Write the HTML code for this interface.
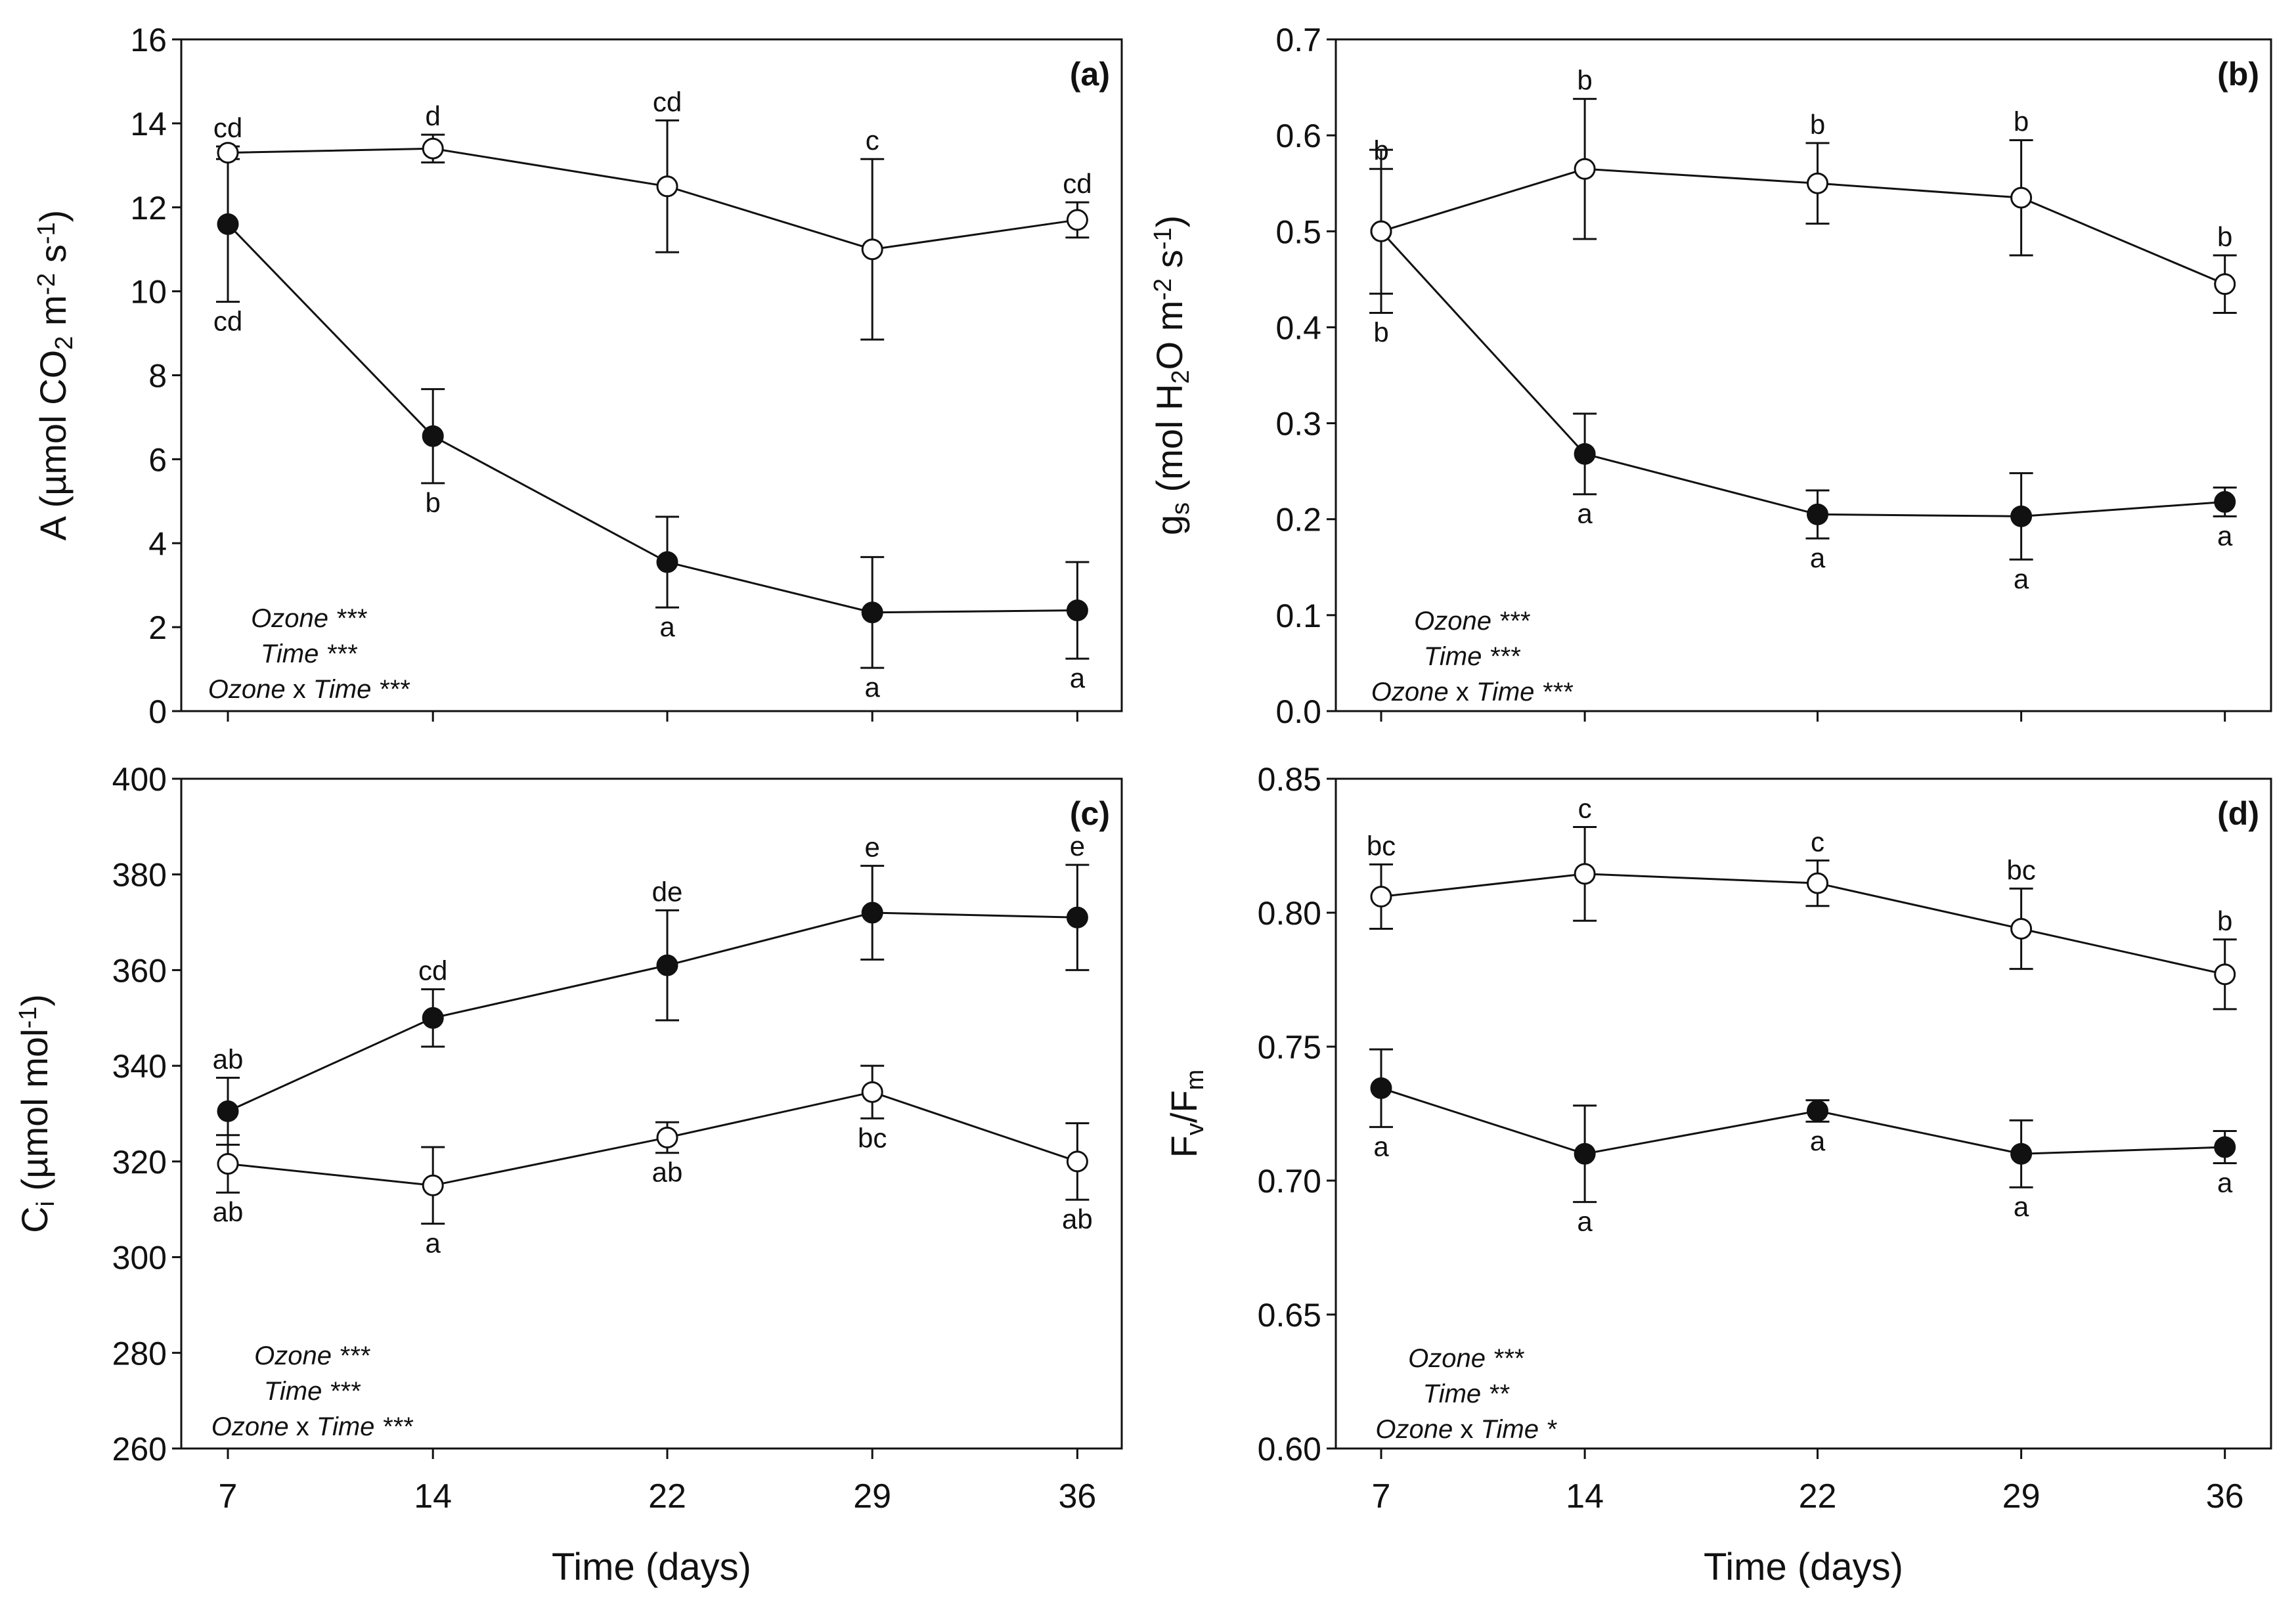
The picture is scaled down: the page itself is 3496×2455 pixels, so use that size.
<!DOCTYPE html>
<html><head><meta charset="utf-8"><style>
html,body{margin:0;padding:0;background:#fff;}
svg{display:block;}
text{font-family:"Liberation Sans",Arial,sans-serif;fill:#111;}
</style></head><body>
<svg id="fig" width="3496" height="2455" viewBox="0 0 3496 2455" xmlns="http://www.w3.org/2000/svg"></svg>
<script>
const days = [7, 14, 22, 29, 36];
// Panel a: net photosynthesis
const aOpen = [13.3, 13.4, 12.5, 11.0, 11.7];
const aOpenErr = [0.15, 0.33, 1.57, 2.15, 0.42];
const aFilled = [11.6, 6.55, 3.55, 2.35, 2.4];
const aFilledErr = [1.85, 1.12, 1.08, 1.32, 1.15];
const aOpenLet = ["cd", "d", "cd", "c", "cd"];
const aFilledLet = ["cd", "b", "a", "a", "a"];
const aTicks = [0, 2, 4, 6, 8, 10, 12, 14, 16];
// Panel b: stomatal conductance
const bOpen = [0.50, 0.565, 0.55, 0.535, 0.445];
const bOpenErr = [0.065, 0.073, 0.042, 0.06, 0.03];
const bFilled = [0.50, 0.268, 0.205, 0.203, 0.218];
const bFilledErr = [0.085, 0.042, 0.025, 0.045, 0.015];
const bOpenLet = ["b", "b", "b", "b", "b"];
const bFilledLet = ["b", "a", "a", "a", "a"];
const bTicks = [0, 0.1, 0.2, 0.3, 0.4, 0.5, 0.6, 0.7];
// Panel c: intercellular CO2
const cOpen = [319.5, 315, 325, 334.5, 320];
const cOpenErr = [6, 8, 3.2, 5.5, 8];
const cFilled = [330.5, 350, 361, 372, 371];
const cFilledErr = [7, 6, 11.5, 9.8, 11];
const cOpenLet = ["ab", "a", "ab", "bc", "ab"];
const cFilledLet = ["ab", "cd", "de", "e", "e"];
const cTicks = [260, 280, 300, 320, 340, 360, 380, 400];
// Panel d: Fv/Fm
const dOpen = [0.806, 0.8145, 0.811, 0.794, 0.777];
const dOpenErr = [0.012, 0.0175, 0.0085, 0.015, 0.013];
const dFilled = [0.7345, 0.710, 0.726, 0.710, 0.7125];
const dFilledErr = [0.0145, 0.018, 0.004, 0.0125, 0.006];
const dOpenLet = ["bc", "c", "c", "bc", "b"];
const dFilledLet = ["a", "a", "a", "a", "a"];
const dTicks = [0.60, 0.65, 0.70, 0.75, 0.80, 0.85];

const NS = "http://www.w3.org/2000/svg";
const svg = document.getElementById("fig");
function mk(tag, attrs, parent, txt) {
  const e = document.createElementNS(NS, tag);
  for (const k in attrs) e.setAttribute(k, attrs[k]);
  if (txt !== undefined) e.textContent = txt;
  (parent || svg).appendChild(e);
  return e;
}

function panel(cfg) {
  const g = mk("g", {});
  
  
  const L = cfg.L, R = cfg.R, T = cfg.T, B = cfg.B;
  const ymin = cfg.ticks[0], ymax = cfg.ticks[cfg.ticks.length - 1];
  const y = v => B - (v - ymin) / (ymax - ymin) * (B - T);
  const x = d => cfg.x0 + (d - 7) * cfg.dx;
  const frame = mk("rect", {x: L, y: T, width: R - L, height: B - T, fill: "none", stroke: "#111", "stroke-width": 3}, g);
  
  
  cfg.ticks.forEach(t => {
    const tk = mk("line", {x1: L - 14, x2: L, y1: y(t), y2: y(t), stroke: "#111", "stroke-width": 3}, g);
    
    
    const lb = mk("text", {x: L - 22, y: y(t) + 18, "text-anchor": "end", "font-size": 50}, g, t.toFixed(cfg.dec));
    
    
  });
  days.forEach(d => {
    const tk = mk("line", {x1: x(d), x2: x(d), y1: B, y2: B + 16, stroke: "#111", "stroke-width": 3}, g);
    
    
    if (cfg.xlabels) {
      const lb = mk("text", {x: x(d), y: B + 90, "text-anchor": "middle", "font-size": 52}, g, String(d));
      
      
    }
  });
  if (cfg.xlabels) {
    const xt = mk("text", {x: (L + R) / 2, y: B + 200, "text-anchor": "middle", "font-size": 58}, g, "Time (days)");
    
    
  }
  const yt = mk("text", {transform: `translate(${cfg.ytx},${(T + B) / 2}) rotate(-90)`, "text-anchor": "middle", "font-size": 56}, g);
  
  
  cfg.ytitle.forEach(p => {
    const a = {};
    if (p[1] === "sub") { a["baseline-shift"] = "-25%"; a["font-size"] = 38; }
    if (p[1] === "sup") { a["baseline-shift"] = "45%"; a["font-size"] = 38; }
    mk("tspan", a, yt, p[0]);
  });
  const pl = mk("text", {x: R - 18, y: T + 70, "text-anchor": "end", "font-size": 50, "font-weight": "bold"}, g, cfg.label);
  
  
  cfg.stats.forEach((s, i) => {
    const t = mk("text", {x: cfg.sx, y: cfg.sy + i * 54, "text-anchor": "middle", "font-size": 40, "font-style": "italic"}, g);
    
    
    if (i === 2) {
      mk("tspan", {}, t, "Ozone");
      mk("tspan", {"font-style": "normal"}, t, " x ");
      mk("tspan", {}, t, "Time " + s);
    } else {
      mk("tspan", {}, t, (i === 0 ? "Ozone " : "Time ") + s);
    }
  });
  function series(vals, errs, lets, filled, above, nm) {
    const sg = mk("g", {}, g);
    
    
    mk("polyline", {points: days.map((d, i) => x(d) + "," + y(vals[i])).join(" "), fill: "none", stroke: "#111", "stroke-width": 3}, sg);
    days.forEach((d, i) => {
      const yt2 = y(vals[i] + errs[i]), yb = y(vals[i] - errs[i]);
      const eb = mk("path", {d: `M${x(d)},${yt2}V${yb}M${x(d) - 18},${yt2}H${x(d) + 18}M${x(d) - 18},${yb}H${x(d) + 18}`, stroke: "#111", "stroke-width": 3, fill: "none"}, sg);
      
      
      const c = mk("circle", {cx: x(d), cy: y(vals[i]), r: 15, fill: filled ? "#111" : "#fff", stroke: "#111", "stroke-width": 3}, sg);
      
      
      const ly = above ? yt2 - 14 : yb + 44;
      const lt = mk("text", {x: x(d), y: ly, "text-anchor": "middle", "font-size": 42}, sg, lets[i]);
      
      
    });
  }
  series(cfg.filled, cfg.filledErr, cfg.filledLet, true, cfg.filledAbove, "ozone-series");
  series(cfg.open, cfg.openErr, cfg.openLet, false, !cfg.filledAbove, "control-series");
}

panel({name: "panel-a", L: 276, R: 1708, T: 60, B: 1083, x0: 347, dx: 44.6, ticks: aTicks, dec: 0, xlabels: false, ytx: 100,
  ytitle: [["A (µmol CO"], ["2", "sub"], [" m"], ["-2", "sup"], [" s"], ["-1", "sup"], [")"]],
  label: "(a)", stats: ["***", "***", "***"], sx: 470, sy: 955,
  open: aOpen, openErr: aOpenErr, openLet: aOpenLet, filled: aFilled, filledErr: aFilledErr, filledLet: aFilledLet, filledAbove: false});
panel({name: "panel-b", L: 2034, R: 3458, T: 60, B: 1083, x0: 2103, dx: 44.3, ticks: bTicks, dec: 1, xlabels: false, ytx: 1800,
  ytitle: [["g"], ["s", "sub"], [" (mol H"], ["2", "sub"], ["O m"], ["-2", "sup"], [" s"], ["-1", "sup"], [")"]],
  label: "(b)", stats: ["***", "***", "***"], sx: 2241, sy: 959,
  open: bOpen, openErr: bOpenErr, openLet: bOpenLet, filled: bFilled, filledErr: bFilledErr, filledLet: bFilledLet, filledAbove: false});
panel({name: "panel-c", L: 276, R: 1708, T: 1186, B: 2206, x0: 347, dx: 44.6, ticks: cTicks, dec: 0, xlabels: true, ytx: 72,
  ytitle: [["C"], ["i", "sub"], [" (µmol mol"], ["-1", "sup"], [")"]],
  label: "(c)", stats: ["***", "***", "***"], sx: 475, sy: 2078,
  open: cOpen, openErr: cOpenErr, openLet: cOpenLet, filled: cFilled, filledErr: cFilledErr, filledLet: cFilledLet, filledAbove: true});
panel({name: "panel-d", L: 2034, R: 3458, T: 1186, B: 2206, x0: 2103, dx: 44.3, ticks: dTicks, dec: 2, xlabels: true, ytx: 1822,
  ytitle: [["F"], ["v", "sub"], ["/F"], ["m", "sub"]],
  label: "(d)", stats: ["***", "**", "*"], sx: 2232, sy: 2082,
  open: dOpen, openErr: dOpenErr, openLet: dOpenLet, filled: dFilled, filledErr: dFilledErr, filledLet: dFilledLet, filledAbove: false});
</script>
</body></html>
